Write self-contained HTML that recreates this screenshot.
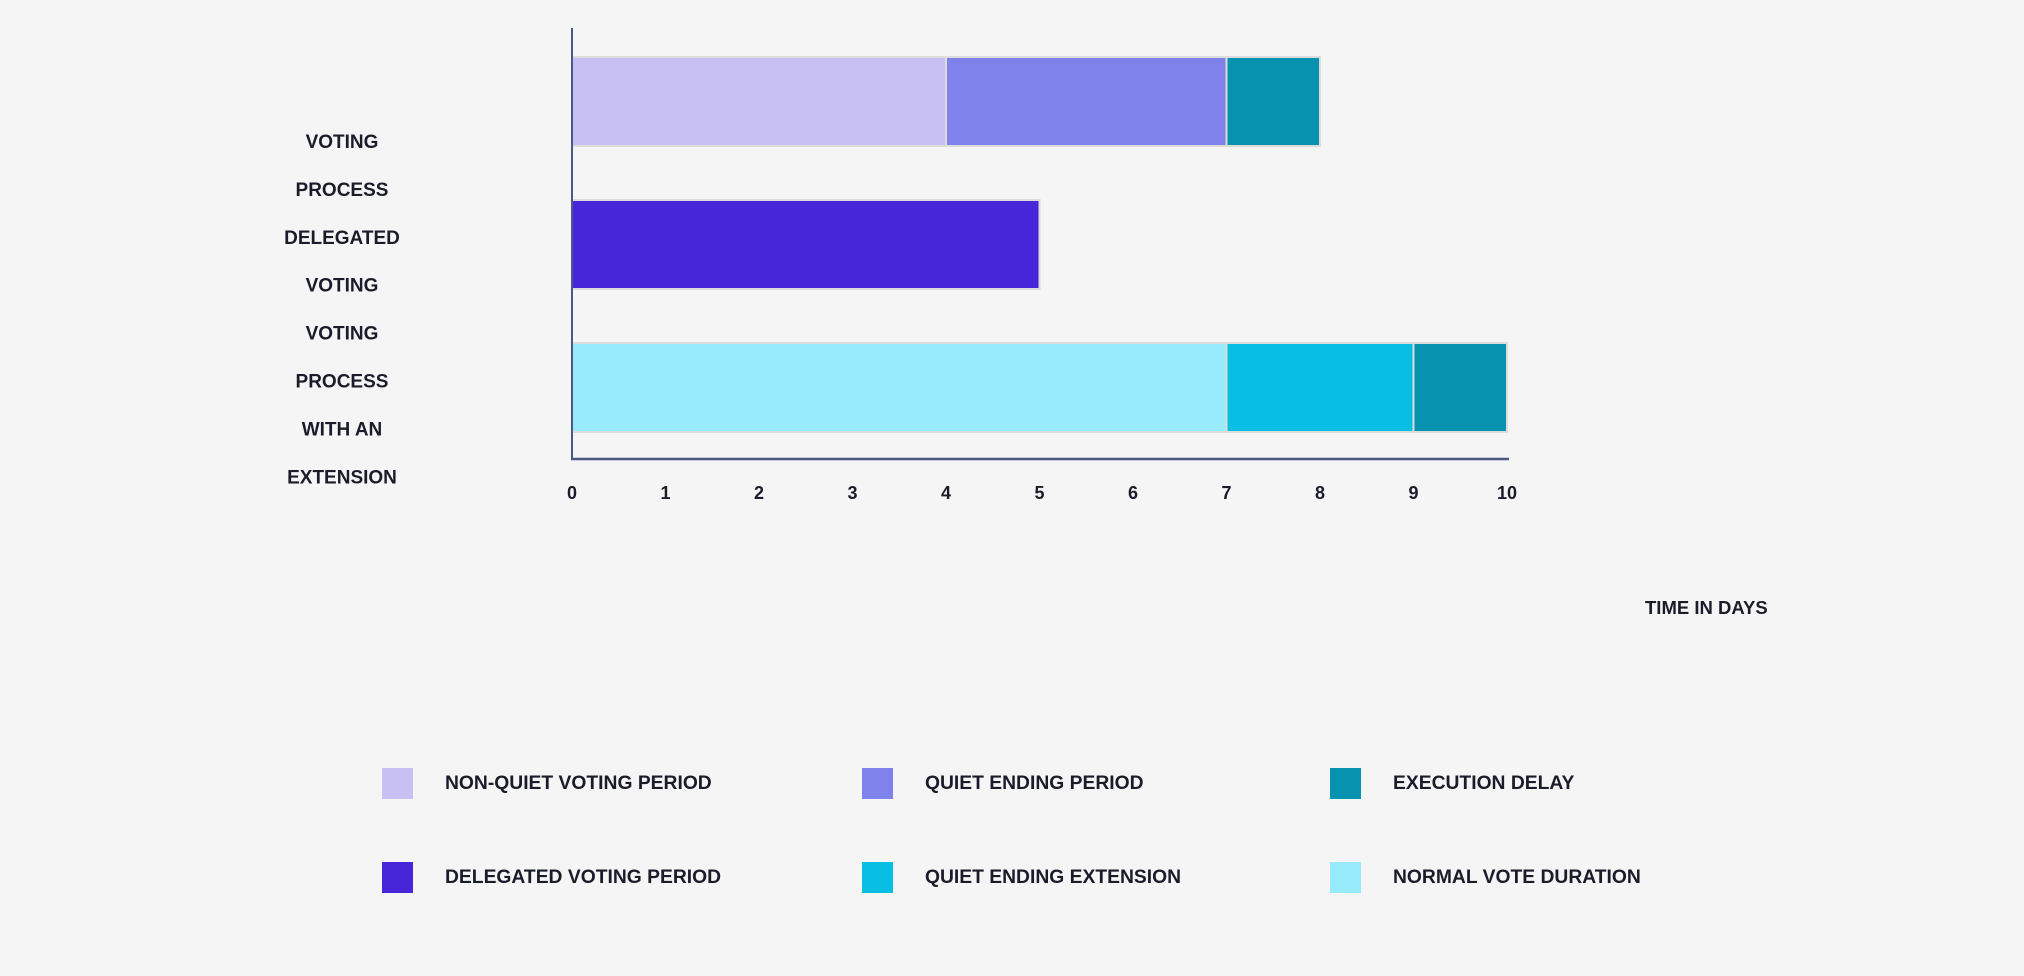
<!DOCTYPE html>
<html><head><meta charset="utf-8"><style>
body{margin:0;background:#f5f5f5;}
svg{display:block;font-family:"Liberation Sans",sans-serif;font-weight:bold;fill:#1b1c2a;}
</style></head><body>
<svg id="chart" width="2024" height="976" viewBox="0 0 2024 976">
<rect width="2024" height="976" fill="#f5f5f5"/>
<g id="bars"></g>
<line x1="572" y1="28" x2="572" y2="459" stroke="#4a5a85" stroke-width="2"/>
<line x1="571" y1="459" x2="1509" y2="459" stroke="#4a5a85" stroke-width="2.5"/>
<g id="ticks"></g>
<g id="ylabels" text-anchor="middle" font-size="19"></g>
<text x="1645" y="614" font-size="18.5">TIME IN DAYS</text>
<g id="legend" font-size="19.3"></g>
</svg>
<script>
const categories=["voting-process","delegated-voting","voting-process-with-extension"];
const segStarts=[[0,4,7],[0],[0,7,9]];
const segValues=[[4,3,1],[5],[7,2,1]];
const segColors=[["#c8bff2","#7f82eb","#0792b0"],["#4725d8"],["#97ebfd","#08bfe3","#0792b0"]];
const tickLabels=[0,1,2,3,4,5,6,7,8,9,10];
const yLabelLines=["VOTING","PROCESS","DELEGATED","VOTING","VOTING","PROCESS","WITH AN","EXTENSION"];
const legendLabels=["NON-QUIET VOTING PERIOD","QUIET ENDING PERIOD","EXECUTION DELAY","DELEGATED VOTING PERIOD","QUIET ENDING EXTENSION","NORMAL VOTE DURATION"];
const legendColors=["#c8bff2","#7f82eb","#0792b0","#4725d8","#08bfe3","#97ebfd"];
const NS="http://www.w3.org/2000/svg";
const x=v=>572+v*93.5;
const y=i=>57+i*143;
const bh=89;
const bars=document.getElementById('bars');
categories.forEach((c,i)=>{
  segValues[i].forEach((v,j)=>{
    const r=document.createElementNS(NS,'rect');
    r.setAttribute('x',x(segStarts[i][j]));r.setAttribute('y',y(i));
    r.setAttribute('width',x(segStarts[i][j]+v)-x(segStarts[i][j]));r.setAttribute('height',bh);
    r.setAttribute('fill',segColors[i][j]);r.setAttribute('stroke','#dcdcdc');r.setAttribute('stroke-width','2');
    
    
    bars.appendChild(r);
  });
});
const ticks=document.getElementById('ticks');
tickLabels.forEach(t=>{
  const e=document.createElementNS(NS,'text');
  e.setAttribute('x',x(t));e.setAttribute('y',499);e.setAttribute('text-anchor','middle');e.setAttribute('font-size','18');
  e.textContent=t;
  
  
  ticks.appendChild(e);
});
const yl=document.getElementById('ylabels');
yLabelLines.forEach((t,i)=>{
  const e=document.createElementNS(NS,'text');
  e.setAttribute('x',342);e.setAttribute('y',148+i*47.9);
  e.textContent=t;
  
  
  yl.appendChild(e);
});
const lg=document.getElementById('legend');
const colX=[382,862,1330];
legendLabels.forEach((t,i)=>{
  const cx=colX[i%3], cy=i<3?768:862;
  const g=document.createElementNS(NS,'g');
  
  
  const r=document.createElementNS(NS,'rect');
  r.setAttribute('x',cx);r.setAttribute('y',cy);r.setAttribute('width',31);r.setAttribute('height',31);r.setAttribute('fill',legendColors[i]);
  const e=document.createElementNS(NS,'text');
  e.setAttribute('x',cx+63);e.setAttribute('y',cy+21);e.textContent=t;
  g.appendChild(r);g.appendChild(e);lg.appendChild(g);
});
</script>
</body></html>
